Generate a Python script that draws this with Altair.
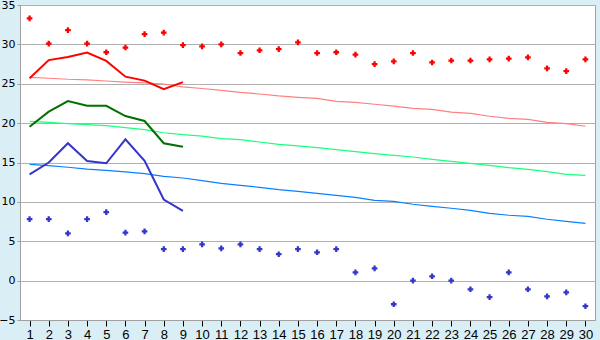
import altair as alt
import pandas as pd

days = list(range(1, 31))

max_pts = [33.3, 30.1, 31.8, 30.1, 29.0, 29.6, 31.3, 31.5, 29.9, 29.75,
           30.0, 28.9, 29.25, 29.4, 30.25, 28.9, 29.0, 28.7, 27.5, 27.85,
           28.9, 27.7, 27.95, 27.95, 28.1, 28.2, 28.35, 26.95, 26.6, 28.1]
min_pts = [7.8, 7.8, 6.0, 7.8, 8.7, 6.1, 6.25, 4.0, 4.0, 4.6,
           4.1, 4.6, 4.0, 3.35, 4.0, 3.6, 4.0, 1.05, 1.55, -3.0,
           0.0, 0.55, 0.0, -1.1, -2.1, 1.05, -1.1, -2.0, -1.5, -3.25]

max_line = [25.7, 28.0, 28.4, 28.95, 27.9, 25.9, 25.4, 24.3, 25.2]
mean_line = [19.55, 21.45, 22.8, 22.2, 22.2, 20.9, 20.27, 17.45, 17.0]
min_line = [13.5, 15.0, 17.45, 15.2, 14.9, 17.95, 15.2, 10.3, 8.85]

max_norm = [25.8, 25.7, 25.57, 25.5, 25.35, 25.2, 25.1, 24.97, 24.6, 24.4,
            24.17, 23.9, 23.7, 23.45, 23.28, 23.15, 22.77, 22.64, 22.4, 22.17,
            21.88, 21.75, 21.4, 21.24, 20.87, 20.6, 20.48, 20.1, 19.93, 19.6]
mean_norm = [20.23, 20.1, 19.93, 19.8, 19.68, 19.42, 19.17, 18.78, 18.53, 18.35,
             18.03, 17.9, 17.6, 17.3, 17.1, 16.88, 16.63, 16.37, 16.12, 15.9,
             15.7, 15.4, 15.15, 14.9, 14.64, 14.34, 14.13, 13.83, 13.5, 13.37]
min_norm = [14.77, 14.6, 14.4, 14.17, 14.0, 13.8, 13.58, 13.25, 13.03, 12.7,
            12.36, 12.1, 11.85, 11.55, 11.34, 11.09, 10.83, 10.58, 10.2, 10.07,
            9.7, 9.44, 9.19, 8.93, 8.55, 8.3, 8.17, 7.79, 7.53, 7.28]

y_ticks = [-5, 0, 5, 10, 15, 20, 25, 30, 35]


def frame(vals, name):
    return pd.DataFrame({"day": days[:len(vals)], "v": vals, "s": name})


x_enc = alt.X("day:Q", scale=alt.Scale(domain=[0.5, 30.5], nice=False, zero=False),
              axis=alt.Axis(values=days, title=None, grid=False, tickSize=6,
                            tickColor="#000000", domainColor="#A0A0A0",
                            labelFont="Liberation Sans Narrow, Liberation Sans",
                            labelFontSize=13, labelColor="#000000", labelPadding=2))
y_enc = alt.Y("v:Q", scale=alt.Scale(domain=[-5, 35], nice=False, zero=False),
              axis=alt.Axis(values=y_ticks, title=None, grid=True, gridColor="#B0B0B0",
                            tickSize=3, tickColor="#A0A0A0", domainColor="#A0A0A0",
                            labelFont="DejaVu Sans", labelFontSize=11,
                            labelColor="#000000", labelPadding=2))


def line(vals, name, color, width):
    return alt.Chart(frame(vals, name)).mark_line(color=color, strokeWidth=width).encode(
        x=x_enc, y=y_enc)


def pts(vals, name, color):
    return alt.Chart(frame(vals, name)).mark_point(
        shape="cross", filled=True, color=color, size=32, opacity=1).encode(x=x_enc, y=y_enc)


chart = alt.layer(
    line(max_norm, "max_norm", "#FF8080", 1.2),
    line(mean_norm, "mean_norm", "#1AFF80", 1.2),
    line(min_norm, "min_norm", "#0A80FF", 1.2),
    line(max_line, "max", "#FF0000", 2),
    line(mean_line, "mean", "#007000", 2),
    line(min_line, "min", "#3535CC", 2),
    pts(max_pts, "maxp", "#FF0000"),
    pts(min_pts, "minp", "#3535CC"),
).properties(
    width=575, height=315,
    autosize=alt.AutoSizeParams(type="none"),
    padding={"left": 20, "top": 5, "right": 5, "bottom": 20},
    background="#D9EEF5",
).configure_view(fill="#FFFFFF", stroke="#A0A0A0", strokeWidth=1)

chart.save("out.html", embed_options={"renderer": "svg", "actions": False})
